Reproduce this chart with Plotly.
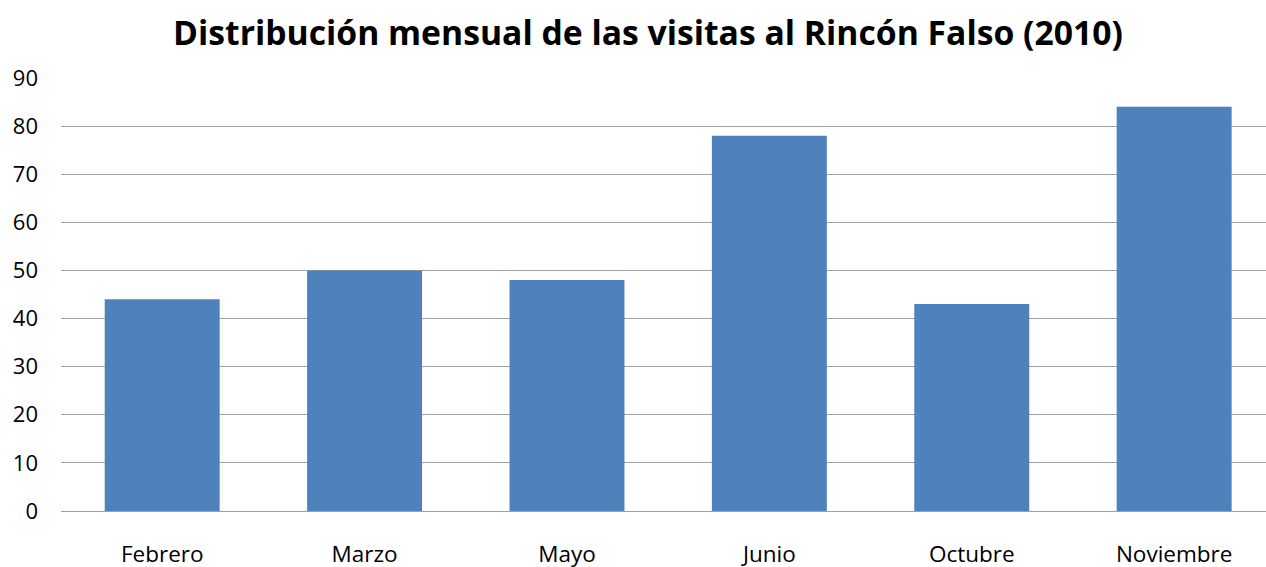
import plotly.graph_objects as go

categories = ["Febrero", "Marzo", "Mayo", "Junio", "Octubre", "Noviembre"]
visitas = [44, 50, 48, 78, 43, 84]
y_ticks = [0, 10, 20, 30, 40, 50, 60, 70, 80, 90]
title_text = "Distribución mensual de las visitas al Rincón Falso (2010)"

fig = go.Figure(go.Bar(x=categories, y=visitas, marker=dict(color="#4f81bd", line=dict(width=0))))

fig.update_layout(
    width=1280, height=567,
    margin=dict(l=61, r=0, t=78, b=56, autoexpand=False),
    paper_bgcolor="white", plot_bgcolor="white",
    bargap=0.432,
    showlegend=False,
    title=dict(text=title_text, x=648 / 1280, xanchor="center", y=0.942, yanchor="middle",
               font=dict(family="Open Sans", size=33.7, color="black", weight="bold")),
    font=dict(family="Open Sans", size=22, color="black"),
)
fig.update_xaxes(type="category", range=[-0.5, 5.523], showgrid=False, showline=False, automargin=False,
                 ticks="", ticklabelstandoff=27, tickfont=dict(size=22.5))
fig.update_yaxes(range=[0, 90], tickvals=y_ticks, showgrid=True, gridcolor="#a0a0a0", gridwidth=1,
                 zeroline=True, zerolinecolor="#a0a0a0", zerolinewidth=1, showline=False, automargin=False,
                 ticks="", ticklabelstandoff=22, tickfont=dict(size=22))

fig.write_html("out.html", config={"displayModeBar": False},
               post_script="document.body.style.margin='0';document.body.style.overflow='hidden';")
